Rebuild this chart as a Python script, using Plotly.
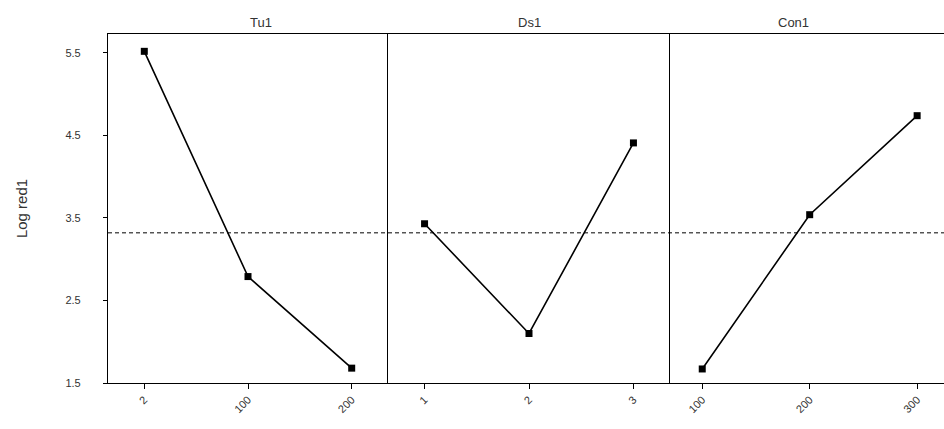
import plotly.graph_objects as go

# Main-effects means for each factor level
factors = ["Tu1", "Ds1", "Con1"]
tu1_levels = ["2", "100", "200"]
ds1_levels = ["1", "2", "3"]
con1_levels = ["100", "200", "300"]
tu1_means = [5.52, 2.79, 1.68]
ds1_means = [3.43, 2.10, 4.41]
con1_means = [1.67, 3.54, 4.74]

y_ticks = [1.5, 2.5, 3.5, 4.5, 5.5]
y_title = "Log red1"

levels = [tu1_levels, ds1_levels, con1_levels]
means = [tu1_means, ds1_means, con1_means]
all_vals = tu1_means + ds1_means + con1_means
grand_mean = sum(all_vals) / len(all_vals)

W, H = 944, 429
ml, mr, mt, mb = 108, 0, 34, 46
plot_w = W - ml - mr
# panel edges in pixels
edges = [108, 388, 670, 944]
domains = [[(edges[i] - ml) / plot_w, (edges[i + 1] - ml) / plot_w] for i in range(3)]
x_ranges = [[-0.35, 2.35], [-0.35, 2.35], [-0.3, 2.25]]

font_family = "Liberation Sans, Arial, sans-serif"
txt_color = "#333333"

fig = go.Figure()
layout = {}
for i in range(3):
    xa = "x" if i == 0 else f"x{i + 1}"
    ya = "y" if i == 0 else f"y{i + 1}"
    fig.add_trace(go.Scatter(
        x=list(range(len(levels[i]))), y=means[i],
        xaxis=xa, yaxis=ya, mode="lines+markers",
        line=dict(color="black", width=1.6),
        marker=dict(symbol="square", size=7, color="black"),
        showlegend=False,
    ))
    key = "" if i == 0 else str(i + 1)
    layout[f"xaxis{key}"] = dict(
        domain=domains[i], range=x_ranges[i], anchor=ya,
        tickvals=list(range(len(levels[i]))), ticktext=levels[i],
        tickangle=-45, ticks="outside", ticklen=5, tickcolor="black",
        showline=True, linecolor="black", linewidth=1.2, mirror=True,
        showgrid=False, zeroline=False,
        tickfont=dict(family=font_family, size=11, color=txt_color),
    )
    layout[f"yaxis{key}"] = dict(
        domain=[0, 1], range=[1.5, 5.73], anchor=xa,
        tickvals=y_ticks, ticktext=[f"{v:.1f}" for v in y_ticks],
        showticklabels=(i == 0), ticks="outside" if i == 0 else "",
        ticklen=4, tickcolor="black", ticklabelstandoff=20,
        showline=True, linecolor="black", linewidth=1.2, mirror=False,
        showgrid=False, zeroline=False,
        tickfont=dict(family=font_family, size=11, color=txt_color),
        title=dict(text=y_title if i == 0 else "", standoff=34,
                   font=dict(family=font_family, size=15, color=txt_color)),
    )

# grand mean reference line across all panels
shapes = [dict(type="line", xref="paper", yref="y", x0=0, x1=1,
               y0=grand_mean, y1=grand_mean,
               line=dict(color="black", width=1, dash="4px,3px"))]

annotations = []
for i, name in enumerate(factors):
    annotations.append(dict(
        text=name, xref="paper", yref="paper",
        x=(domains[i][0] + domains[i][1]) / 2 if i < 2 else
          (1.0 * (811 - ml) / plot_w),
        y=1, yanchor="bottom", yshift=2, showarrow=False,
        font=dict(family=font_family, size=13, color=txt_color),
    ))

fig.update_layout(
    width=W, height=H,
    margin=dict(l=ml, r=mr, t=mt, b=mb),
    paper_bgcolor="white", plot_bgcolor="white",
    shapes=shapes, annotations=annotations,
    **layout,
)

fig.write_html("out.html")
